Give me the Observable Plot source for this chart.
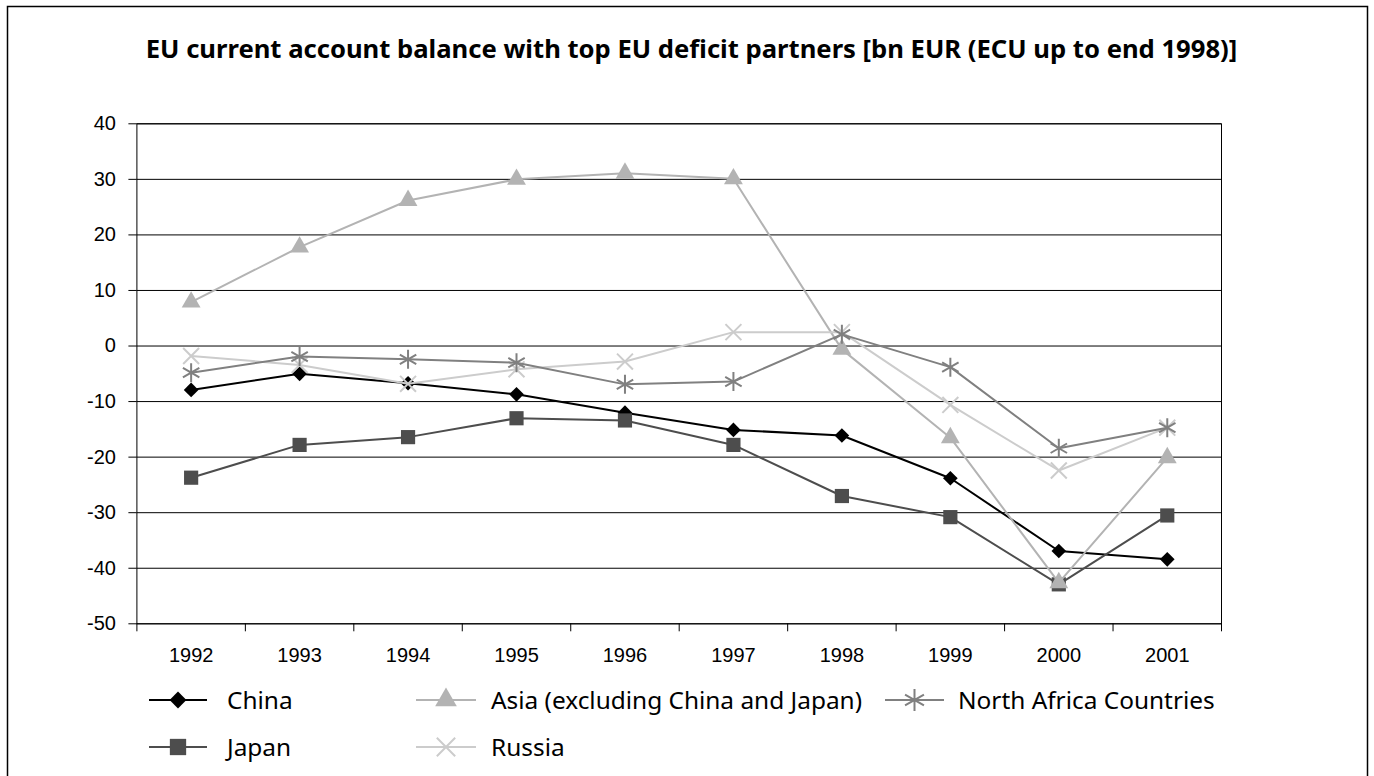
<!DOCTYPE html>
<html>
<head>
<meta charset="utf-8">
<script src="https://cdn.jsdelivr.net/npm/d3@7"></script>
<script src="https://cdn.jsdelivr.net/npm/@observablehq/plot@0.6"></script>
<style>
  body { margin: 0; background: #fff; }
  #wrap { position: relative; width: 1374px; height: 776px; overflow: hidden; background: #fff; }
  #wrap > svg { position: absolute; left: 0; top: 0; overflow: visible; }
</style>
</head>
<body>
<div id="wrap"></div>
<script>
// ---- data ----
const years = [1992, 1993, 1994, 1995, 1996, 1997, 1998, 1999, 2000, 2001];
const china       = [-7.9, -5.0, -6.7, -8.7, -12.0, -15.1, -16.1, -23.8, -36.9, -38.4];
const japan       = [-23.7, -17.8, -16.4, -13.0, -13.4, -17.8, -27.0, -30.8, -42.9, -30.5];
const asia        = [7.9, 17.8, 26.2, 30.0, 31.1, 30.1, -0.6, -16.5, -42.6, -20.1];
const russia      = [-1.8, -3.4, -6.8, -4.2, -2.8, 2.5, 2.5, -10.6, -22.4, -14.7];
const northAfrica = [-4.8, -1.9, -2.4, -3.0, -6.9, -6.4, 2.1, -3.8, -18.4, -14.7];
const yTicks = [40, 30, 20, 10, 0, -10, -20, -30, -40, -50];
const titleText = "EU current account balance with top EU deficit partners [bn EUR (ECU up to end 1998)]";

const series = [
  {name: "China", values: china, color: "#000000", symbol: "diamond2", r: 6.6, filled: true, d3sym: d3.symbolDiamond2},
  {name: "Japan", values: japan, color: "#4d4d4d", symbol: "square", r: 8.0, filled: true, d3sym: d3.symbolSquare},
  {name: "Asia (excluding China and Japan)", values: asia, color: "#b3b3b3", symbol: "triangle", r: 7.0, filled: true, d3sym: d3.symbolTriangle},
  {name: "Russia", values: russia, color: "#cccccc", symbol: "times", r: 7.3, filled: false, d3sym: d3.symbolTimes},
  {name: "North Africa Countries", values: northAfrica, color: "#808080", symbol: "asterisk", r: 9.0, filled: false, d3sym: d3.symbolAsterisk}
];

const boundaries = [years[0] - 0.5, ...years.map(y => y + 0.5)];
const tickFont = "'Liberation Sans', Arial, sans-serif";

// ---- chart ----
const marks = [
  Plot.gridY(yTicks, {stroke: "#000", strokeOpacity: 1}),
  Plot.frame({stroke: "#000"}),
  Plot.axisY(yTicks, {tickSize: 8, tickPadding: 13, tickFormat: d => String(d), label: null, stroke: "#000", fontSize: 20, fontFamily: tickFont, fill: "#000"}),
  Plot.axisX(boundaries, {tickSize: 8, tickFormat: () => "", label: null, stroke: "#000"}),
  Plot.axisX(years, {tickSize: 0, tickPadding: 24, tickFormat: d => String(d), label: null, fontSize: 20, fontFamily: tickFont, fill: "#000"})
];
for (const s of series) {
  const data = years.map((y, i) => ({year: y, value: s.values[i]}));
  marks.push(Plot.line(data, {x: "year", y: "value", stroke: s.color, strokeWidth: 2}));
  if (s.filled) {
    marks.push(Plot.dot(data, {x: "year", y: "value", symbol: s.symbol, r: s.r, fill: s.color, stroke: "none"}));
  } else {
    marks.push(Plot.dot(data, {x: "year", y: "value", symbol: s.symbol, r: s.r, stroke: s.color, strokeWidth: 2, fill: "none"}));
  }
}

const chart = Plot.plot({
  width: 1374,
  height: 680,
  marginLeft: 136.4,
  marginRight: 153,
  marginTop: 123.3,
  marginBottom: 56.7,
  x: {domain: [boundaries[0], boundaries[boundaries.length - 1]]},
  y: {domain: [-50, 40]},
  style: {fontFamily: tickFont, fontSize: "20px", color: "#000", background: "transparent"},
  marks
});
const wrap = document.getElementById("wrap");
wrap.appendChild(chart);

// ---- title, frame and legend overlay ----
function fitSize(text, weight, family, target) {
  const c = document.createElement("canvas").getContext("2d");
  c.font = `${weight} 100px ${family}`;
  return 100 * target / c.measureText(text).width;
}
const sans = "'Noto Sans', 'Open Sans', sans-serif";
const titleSize = fitSize(titleText, "bold", sans, 1092);
const legendSize = fitSize("North Africa Countries", "normal", sans, 257);

const ov = d3.create("svg").attr("width", 1374).attr("height", 776)
  .style("position", "absolute").style("left", 0).style("top", 0).style("pointer-events", "none");
ov.append("rect").attr("x", 7.5).attr("y", 6.5).attr("width", 1360).attr("height", 820)
  .attr("fill", "none").attr("stroke", "#000").attr("stroke-width", 1.5);
ov.append("text").attr("x", 691.5).attr("y", 58.3).attr("text-anchor", "middle")
  .attr("font-family", sans).attr("font-weight", "bold").attr("font-size", titleSize)
  .attr("fill", "#000").text(titleText);

const legendPos = {
  "China": {x0: 149, x1: 207, tx: 227, y: 700},
  "Japan": {x0: 149, x1: 207, tx: 227, y: 747},
  "Asia (excluding China and Japan)": {x0: 416, x1: 476, tx: 491, y: 700},
  "Russia": {x0: 416, x1: 476, tx: 491, y: 747},
  "North Africa Countries": {x0: 885, x1: 944, tx: 958, y: 700}
};
for (const s of series) {
  const p = legendPos[s.name];
  const g = ov.append("g");
  g.append("line").attr("x1", p.x0).attr("x2", p.x1).attr("y1", p.y).attr("y2", p.y)
    .attr("stroke", s.color).attr("stroke-width", 2);
  const lr = s.r * 1.15;
  const path = d3.symbol(s.d3sym, Math.PI * lr * lr)();
  const sym = g.append("path").attr("d", path)
    .attr("transform", `translate(${(p.x0 + p.x1) / 2},${p.y})`);
  if (s.filled) sym.attr("fill", s.color);
  else sym.attr("fill", "none").attr("stroke", s.color).attr("stroke-width", 2);
  g.append("text").attr("x", p.tx).attr("y", p.y + legendSize * 0.357)
    .attr("font-family", sans).attr("font-size", legendSize).attr("fill", "#000").text(s.name);
}
wrap.appendChild(ov.node());
</script>
</body>
</html>
